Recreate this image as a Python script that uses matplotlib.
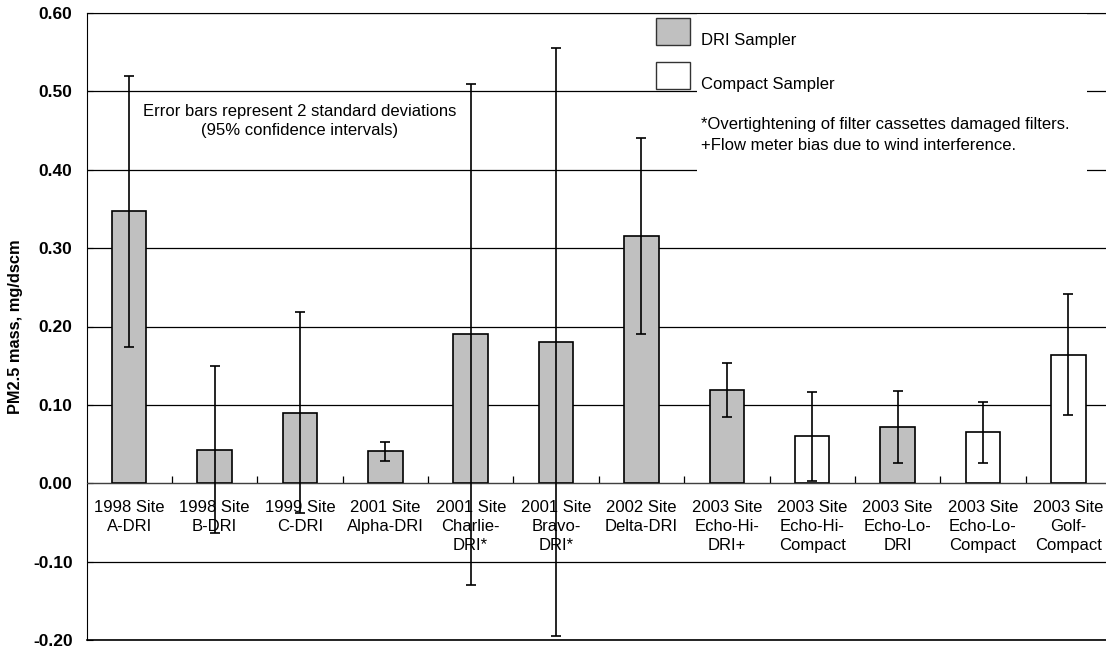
import matplotlib
matplotlib.use("Agg")
import matplotlib.pyplot as plt
from matplotlib.patches import Rectangle

plt.rcParams['font.family'] = ['Liberation Sans', 'DejaVu Sans']

# data
sites = ["1998 Site\nA-DRI", "1998 Site\nB-DRI", "1999 Site\nC-DRI", "2001 Site\nAlpha-DRI",
         "2001 Site\nCharlie-\nDRI*", "2001 Site\nBravo-\nDRI*", "2002 Site\nDelta-DRI",
         "2003 Site\nEcho-Hi-\nDRI+", "2003 Site\nEcho-Hi-\nCompact", "2003 Site\nEcho-Lo-\nDRI",
         "2003 Site\nEcho-Lo-\nCompact", "2003 Site\nGolf-\nCompact"]
sampler = ["DRI", "DRI", "DRI", "DRI", "DRI", "DRI", "DRI", "DRI",
           "Compact", "DRI", "Compact", "Compact"]
pm25 = [0.347, 0.043, 0.090, 0.041, 0.190, 0.180, 0.316, 0.119, 0.060, 0.072, 0.065, 0.164]
err2sd = [0.173, 0.106, 0.128, 0.012, 0.320, 0.375, 0.125, 0.034, 0.057, 0.046, 0.039, 0.077]
yticks = [-0.20, -0.10, 0.00, 0.10, 0.20, 0.30, 0.40, 0.50, 0.60]

fill = {"DRI": "#c0c0c0", "Compact": "white"}

W, H = 1106, 647
fig = plt.figure(figsize=(W / 100, H / 100), dpi=100)

def px(x, y):  # pixel position -> figure fraction
    return x / W, (H - y) / H

# axes box: left spine at 87px, top 13px, bottom 640px, runs past right edge
x0, y0 = px(86.5, 640)
x1, y1 = px(1111, 13)
ax = fig.add_axes([x0, y0, x1 - x0, y1 - y0])

xs = list(range(len(sites)))
ax.bar(xs, pm25, width=0.405, color=[fill[s] for s in sampler],
       edgecolor="black", linewidth=1.2, zorder=2)
ax.errorbar(xs, pm25, yerr=err2sd, fmt="none", ecolor="black", elinewidth=1.2,
            capsize=3.6, capthick=1.2, zorder=3)

ax.set_xlim(-0.5, len(sites) - 0.5)
ax.set_ylim(-0.20, 0.60)
ax.set_yticks(yticks)
ax.set_yticklabels(["%.2f" % v for v in yticks], fontweight="bold", fontsize=12.5)
ax.tick_params(axis="y", direction="in", length=4, pad=10, width=0.8)
ax.set_ylabel("PM2.5 mass, mg/dscm", fontweight="bold", fontsize=11.8, labelpad=7)

ax.set_axisbelow(True)
ax.yaxis.grid(True, color="black", linewidth=0.9)

# category axis sits on the zero line
ax.spines["bottom"].set_position(("data", 0))
ax.spines["bottom"].set_color("#404040")
ax.spines["right"].set_visible(False)
ax.set_xticks(xs)
ax.set_xticklabels(sites, fontsize=12, linespacing=1.35)
ax.set_xticks([i + 0.5 for i in xs[:-1]], minor=True)
ax.tick_params(axis="x", which="major", length=0, pad=12)
ax.tick_params(axis="x", which="minor", direction="in", length=5, width=0.9)
ax.axhline(-0.20, color="black", linewidth=1.2, clip_on=False, zorder=4)

# white panel behind legend and notes
bx, by = px(697, 200)
bw = (1087 - 697) / W
bh = (200 - 14) / H
ax.add_patch(Rectangle((bx, by), bw, bh, transform=fig.transFigure,
                       facecolor="white", edgecolor="none", zorder=1))

# legend squares
for top, name, lab in [(18, "DRI", "DRI Sampler"), (62, "Compact", "Compact Sampler")]:
    sx, sy = px(656, top + 27)
    ax.add_patch(Rectangle((sx, sy), 34 / W, 27 / H, transform=fig.transFigure,
                           facecolor=fill[name], edgecolor="#333333", linewidth=1.0,
                           zorder=5, clip_on=False))
    tx, ty = px(701, top + 22)
    fig.text(tx, ty, lab, fontsize=12, va="center", ha="left")

nx, ny = px(701, 135)
fig.text(nx, ny, "*Overtightening of filter cassettes damaged filters.\n"
         "+Flow meter bias due to wind interference.",
         fontsize=12, va="center", ha="left", linespacing=1.45)

ex, ey = px(300, 121)
fig.text(ex, ey, "Error bars represent 2 standard deviations\n(95% confidence intervals)",
         fontsize=12, va="center", ha="center", linespacing=1.4)

fig.savefig("out.png", dpi=100)
